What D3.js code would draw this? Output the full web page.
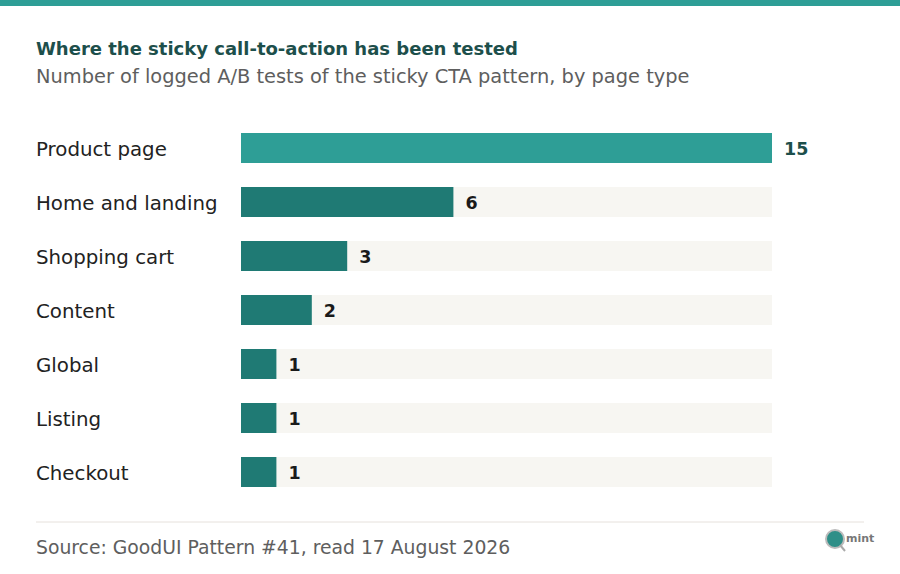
<!DOCTYPE html>
<meta charset="utf-8">
<script src="https://d3js.org/d3.v7.min.js"></script>
<style>
  body { margin: 0; background: #fff; }
  svg text { font-family: "DejaVu Sans", "Noto Sans", sans-serif; }
</style>
<div id="chart"></div>
<script>

    // data
    const pageTypes = ["Product page", "Home and landing", "Shopping cart", "Content", "Global", "Listing", "Checkout"];
    const testCounts = [15, 6, 3, 2, 1, 1, 1];
    const title = "Where the sticky call-to-action has been tested";
    const subtitle = "Number of logged A/B tests of the sticky CTA pattern, by page type";
    const source = "Source: GoodUI Pattern #41, read 17 August 2026";

    const W = 900, H = 574;
    const margin = { top: 133, left: 241, right: 128 };

    const svg = d3.select("#chart")
        .append("svg")
        .attr("width", W)
        .attr("height", H);

    // top accent stripe
    svg.append("rect")
        .attr("x", 0).attr("y", 0)
        .attr("width", W).attr("height", 6)
        .attr("fill", "#2e9e96");

    svg.append("text")
        .attr("x", 36).attr("y", 55)
        .attr("font-size", 18)
        .attr("font-weight", 700)
        .attr("fill", "#1d4f4b")
        .text(title);

    svg.append("text")
        .attr("x", 36).attr("y", 83)
        .attr("font-size", 19.4)
        .attr("fill", "#5e5e5e")
        .text(subtitle);

    const data = pageTypes.map((d, i) => ({ type: d, n: testCounts[i] }));

    const x = d3.scaleLinear()
        .domain([0, d3.max(testCounts)])
        .range([margin.left, W - margin.right]);

    // 30px bars on a 54px step
    const y = d3.scaleBand()
        .domain(pageTypes)
        .range([margin.top, margin.top + 54 * (pageTypes.length - 1) + 30])
        .paddingInner(24 / 54)
        .paddingOuter(0);

    const rows = svg.append("g")
        .selectAll("g")
        .data(data)
        .join("g");

    // background track
    rows.append("rect")
        .attr("x", x(0))
        .attr("y", d => y(d.type))
        .attr("width", x(d3.max(testCounts)) - x(0))
        .attr("height", y.bandwidth())
        .attr("fill", "#f7f6f2");

    rows.append("rect")
        .attr("x", x(0))
        .attr("y", d => y(d.type))
        .attr("width", d => x(d.n) - x(0))
        .attr("height", y.bandwidth())
        .attr("fill", (d, i) => i === 0 ? "#2e9e96" : "#1f7a74");

    rows.append("text")
        .attr("x", 36)
        .attr("y", d => y(d.type) + y.bandwidth() / 2)
        .attr("dy", "0.38em")
        .attr("font-size", 19.8)
        .attr("fill", "#222")
        .text(d => d.type);

    rows.append("text")
        .attr("x", d => x(d.n) + 12)
        .attr("y", d => y(d.type) + y.bandwidth() / 2)
        .attr("dy", "0.38em")
        .attr("font-size", 17.5)
        .attr("font-weight", 700)
        .attr("fill", (d, i) => i === 0 ? "#1d4f4b" : "#1a1a1a")
        .text(d => d.n);

    // footer
    svg.append("line")
        .attr("x1", 36).attr("x2", 864)
        .attr("y1", 522).attr("y2", 522)
        .attr("stroke", "#e6e1dc");

    svg.append("text")
        .attr("x", 36).attr("y", 554)
        .attr("font-size", 18.8)
        .attr("fill", "#5e5e5e")
        .text(source);

    // small mint mark
    const logo = svg.append("g").attr("transform", "translate(835,539)");
    logo.append("circle").attr("r", 9).attr("fill", "#2e8f88").attr("stroke", "#bbb").attr("stroke-width", 2);
    logo.append("line").attr("x1", 5).attr("y1", 6).attr("x2", 10).attr("y2", 12).attr("stroke", "#aaa").attr("stroke-width", 2);
    logo.append("text").attr("x", 11).attr("y", 3).attr("font-size", 11).attr("font-weight", 700).attr("fill", "#777").text("mint");

</script>
